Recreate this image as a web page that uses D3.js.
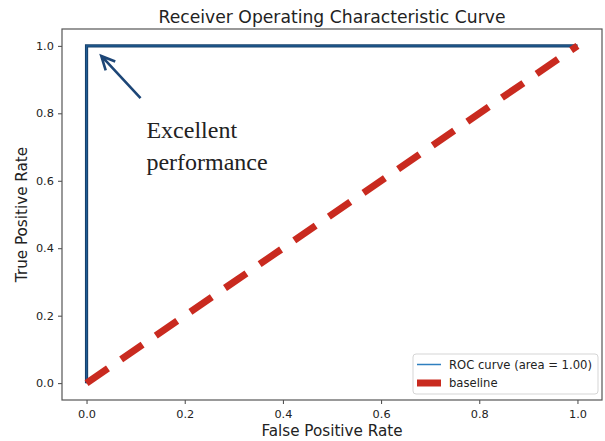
<!DOCTYPE html>
<html>
<head>
<meta charset="utf-8">
<script src="https://cdn.jsdelivr.net/npm/d3@7"></script>
<style>
  body { margin: 0; background: #fff; }
  svg text { font-family: "DejaVu Sans", sans-serif; fill: #222; }
</style>
</head>
<body>
<div id="chart"></div>
<script>
// data
const rocFpr = [0, 0, 1];
const rocTpr = [0, 1, 1];
const baseFpr = [0, 1];
const baseTpr = [0, 1];
const tickValues = [0, 0.2, 0.4, 0.6, 0.8, 1.0];
const legendLabels = ["ROC curve (area = 1.00)", "baseline"];

const width = 605, height = 441;
const margin = {top: 29, right: 3, bottom: 41, left: 62};

const svg = d3.select("#chart").append("svg")
  .attr("width", width)
  .attr("height", height);

const x = d3.scaleLinear().domain([-0.05, 1.05]).range([margin.left, width - margin.right]);
const y = d3.scaleLinear().domain([-0.05, 1.05]).range([height - margin.bottom, margin.top]);

// axes
const xAxis = svg.append("g")
  .attr("transform", `translate(0,${height - margin.bottom})`)
  .call(d3.axisBottom(x).tickValues(tickValues).tickFormat(d3.format(".1f")).tickSize(4).tickSizeOuter(0));
const yAxis = svg.append("g")
  .attr("transform", `translate(${margin.left},0)`)
  .call(d3.axisLeft(y).tickValues(tickValues).tickFormat(d3.format(".1f")).tickSize(4).tickSizeOuter(0));

[xAxis, yAxis].forEach(g => {
  g.select(".domain").remove();
  g.selectAll("line").attr("stroke", "#444");
  g.selectAll("text").style("font-size", "11.3px").attr("fill", "#222");
});
xAxis.selectAll("text").attr("dy", "1.0em");
yAxis.selectAll("text").attr("dx", "-0.1em");

// frame
svg.append("rect")
  .attr("x", margin.left).attr("y", margin.top)
  .attr("width", width - margin.right - margin.left)
  .attr("height", height - margin.bottom - margin.top)
  .attr("fill", "none").attr("stroke", "#555").attr("stroke-width", 1.2);

const line = d3.line().x(d => x(d[0])).y(d => y(d[1]));

// roc curve
svg.append("path")
  .datum(d3.zip(rocFpr, rocTpr))
  .attr("d", line)
  .attr("fill", "none")
  .attr("stroke", "#17406b")
  .attr("stroke-width", 3.2);
svg.append("path")
  .datum(d3.zip(rocFpr, rocTpr))
  .attr("d", line)
  .attr("fill", "none")
  .attr("stroke", "#1f5c94")
  .attr("stroke-width", 1.2);

// baseline
svg.append("path")
  .datum(d3.zip(baseFpr, baseTpr))
  .attr("d", line)
  .attr("fill", "none")
  .attr("stroke", "#c92a1f")
  .attr("stroke-width", 7)
  .attr("stroke-dasharray", "26,16");

// annotation arrow
const ax0 = x(0.11), ay0 = y(0.845), ax1 = x(0.03), ay1 = y(0.97);
const ang = Math.atan2(ay0 - ay1, ax0 - ax1);
const hl = 15, hw = 0.45;
svg.append("path")
  .attr("d", `M${ax0},${ay0}L${ax1},${ay1}` +
    `M${ax1 + hl * Math.cos(ang + hw)},${ay1 + hl * Math.sin(ang + hw)}L${ax1},${ay1}` +
    `L${ax1 + hl * Math.cos(ang - hw)},${ay1 + hl * Math.sin(ang - hw)}`)
  .attr("fill", "none")
  .attr("stroke", "#1d4677")
  .attr("stroke-width", 2.6);

const note = svg.append("text")
  .attr("x", x(0.122))
  .attr("y", 138)
  .style("font-family", "'Liberation Serif', serif")
  .style("font-size", "24px")
  .attr("fill", "#111");
note.append("tspan").text("Excellent");
note.append("tspan").attr("x", x(0.122)).attr("dy", 32).text("performance");

// labels
svg.append("text")
  .attr("x", (margin.left + width - margin.right) / 2)
  .attr("y", 23)
  .attr("text-anchor", "middle")
  .style("font-size", "17.2px")
  .text("Receiver Operating Characteristic Curve");
svg.append("text")
  .attr("x", (margin.left + width - margin.right) / 2)
  .attr("y", 436)
  .attr("text-anchor", "middle")
  .style("font-size", "15.2px")
  .text("False Positive Rate");
svg.append("text")
  .attr("transform", `translate(27,${(margin.top + height - margin.bottom) / 2}) rotate(-90)`)
  .attr("text-anchor", "middle")
  .style("font-size", "15.2px")
  .text("True Positive Rate");

// legend
const lg = svg.append("g").attr("transform", "translate(413,354)");
lg.append("rect")
  .attr("width", 185).attr("height", 40).attr("rx", 3)
  .attr("fill", "#fff").attr("stroke", "#d5d5d5");
const legendStyle = [
  {color: "#2e7fbf", w: 1.5},
  {color: "#c92a1f", w: 7}
];
legendLabels.forEach((lab, i) => {
  lg.append("line")
    .attr("x1", 4).attr("x2", 28)
    .attr("y1", 10.5 + i * 18.5).attr("y2", 10.5 + i * 18.5)
    .attr("stroke", legendStyle[i].color)
    .attr("stroke-width", legendStyle[i].w);
  lg.append("text")
    .attr("x", 36).attr("y", 10.5 + i * 18.5)
    .attr("dy", "0.35em")
    .style("font-size", "11.6px")
    .text(lab);
});
</script>
</body>
</html>
